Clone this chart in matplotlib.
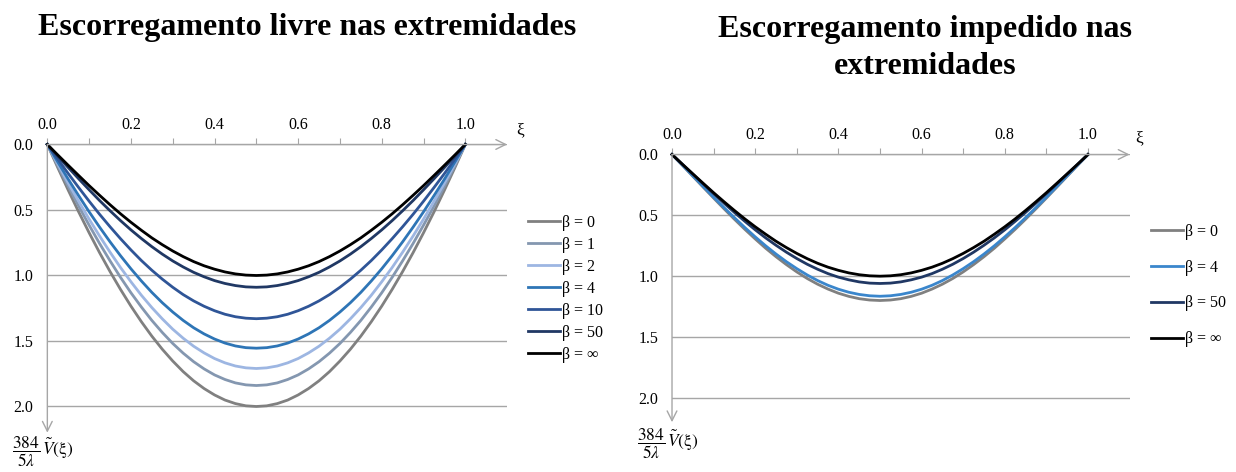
import numpy as np
import matplotlib
matplotlib.use("Agg")
import matplotlib.pyplot as plt

plt.rcParams['font.family'] = ['Liberation Serif', 'DejaVu Serif']
plt.rcParams['mathtext.fontset'] = 'stix'

# curves are symmetric about xi = 0.5: values read for xi = 0, 0.025, ..., 0.5
xi_half = np.round(np.arange(0, 0.5001, 0.025), 3)

# Escorregamento livre nas extremidades
livre_labels = ['β = 0', 'β = 1', 'β = 2', 'β = 4', 'β = 10', 'β = 50', 'β = ∞']
livre_colors = ['#808080', '#8497b0', '#9db6e2', '#2e75b6', '#2f5597', '#203864', '#000000']
livre_b0 = [0, 0.177, 0.349, 0.515, 0.674, 0.826, 0.970, 1.106, 1.234, 1.353, 1.463,
            1.563, 1.653, 1.734, 1.804, 1.863, 1.912, 1.951, 1.978, 1.995, 2.00]
livre_b1 = [0, 0.162, 0.319, 0.471, 0.616, 0.756, 0.888, 1.014, 1.132, 1.241, 1.343,
            1.435, 1.519, 1.593, 1.658, 1.713, 1.759, 1.794, 1.820, 1.835, 1.84]
livre_b2 = [0, 0.149, 0.294, 0.434, 0.570, 0.699, 0.822, 0.939, 1.048, 1.151, 1.245,
            1.331, 1.410, 1.479, 1.540, 1.591, 1.634, 1.667, 1.691, 1.705, 1.71]
livre_b4 = [0, 0.134, 0.265, 0.391, 0.514, 0.631, 0.743, 0.849, 0.949, 1.042, 1.129,
            1.208, 1.279, 1.343, 1.399, 1.446, 1.485, 1.516, 1.538, 1.551, 1.555]
livre_b10 = [0, 0.112, 0.222, 0.329, 0.433, 0.533, 0.628, 0.719, 0.805, 0.886, 0.960,
             1.028, 1.090, 1.146, 1.194, 1.235, 1.269, 1.296, 1.315, 1.326, 1.33]
livre_b50 = [0, 0.089, 0.176, 0.262, 0.346, 0.428, 0.506, 0.581, 0.652, 0.718, 0.780,
             0.837, 0.889, 0.935, 0.976, 1.010, 1.039, 1.061, 1.077, 1.087, 1.09]
livre_binf = [0, 0.080, 0.159, 0.237, 0.314, 0.388, 0.460, 0.529, 0.594, 0.655, 0.713,
              0.765, 0.813, 0.856, 0.894, 0.926, 0.952, 0.973, 0.988, 0.997, 1.00]

# Escorregamento impedido nas extremidades
imped_labels = ['β = 0', 'β = 4', 'β = 50', 'β = ∞']
imped_colors = ['#808080', '#3a86cc', '#203864', '#000000']
imped_b0 = [0, 0.089, 0.179, 0.269, 0.358, 0.446, 0.532, 0.615, 0.694, 0.770, 0.840,
            0.905, 0.965, 1.019, 1.066, 1.106, 1.140, 1.166, 1.185, 1.196, 1.20]
imped_b4 = [0, 0.087, 0.175, 0.263, 0.351, 0.436, 0.519, 0.600, 0.677, 0.750, 0.818,
            0.881, 0.938, 0.990, 1.036, 1.075, 1.107, 1.132, 1.150, 1.161, 1.165]
imped_b50 = [0, 0.081, 0.161, 0.242, 0.322, 0.400, 0.476, 0.549, 0.619, 0.685, 0.746,
             0.803, 0.855, 0.902, 0.943, 0.979, 1.008, 1.030, 1.047, 1.057, 1.06]
imped_binf = [0, 0.080, 0.159, 0.237, 0.314, 0.388, 0.460, 0.529, 0.594, 0.655, 0.713,
              0.765, 0.813, 0.856, 0.894, 0.926, 0.952, 0.973, 0.988, 0.997, 1.00]

x_ticks = np.round(np.arange(0, 1.0001, 0.1), 1)
x_ticklabels = ['0.0', '', '0.2', '', '0.4', '', '0.6', '', '0.8', '', '1.0']
y_ticks = [0.0, 0.5, 1.0, 1.5, 2.0]
y_ticklabels = ['0.0', '0.5', '1.0', '1.5', '2.0']

axis_gray = '#a6a6a6'
ylab = r'$\dfrac{384}{5\lambda}\,\tilde{V}\mathrm{(ξ)}$'

# full curve = half + mirrored half
xi = np.concatenate([xi_half, 1 - xi_half[-2::-1]])


def full(half):
    half = np.asarray(half)
    return np.concatenate([half, half[-2::-1]])


fig = plt.figure(figsize=(12.36, 4.72), dpi=100)
ax1 = fig.add_axes([0.0383, 0.0833, 0.372, 0.6106])
ax2 = fig.add_axes([0.5437, 0.1055, 0.3702, 0.5672])


def style_axis(ax, ylab_pos, xi_pos):
    ax.set_xlim(0, 1.1)
    ax.set_ylim(2.2, 0)
    for s in ax.spines.values():
        s.set_visible(False)
    ax.xaxis.tick_top()
    ax.set_xticks(x_ticks)
    ax.set_xticklabels(x_ticklabels)
    ax.set_yticks(y_ticks)
    ax.set_yticklabels(y_ticklabels)
    ax.tick_params(axis='x', length=4, width=0.8, color=axis_gray, pad=4, labelsize=11.5)
    ax.tick_params(axis='y', length=0, pad=10, labelsize=11.5)
    ax.grid(axis='y', color=axis_gray, lw=1.0)
    ax.grid(axis='x', visible=False)
    ax.set_axisbelow(True)
    arrow = dict(arrowstyle='->,head_length=0.7,head_width=0.35', color=axis_gray,
                 lw=1.0, shrinkA=0, shrinkB=0)
    ax.annotate('', xy=(1.0, 1.0), xytext=(0.0, 1.0), xycoords='axes fraction',
                arrowprops=arrow, annotation_clip=False)
    ax.annotate('', xy=(0.0, 0.0), xytext=(0.0, 1.0), xycoords='axes fraction',
                arrowprops=arrow, annotation_clip=False)
    ax.text(xi_pos[0], xi_pos[1], 'ξ', transform=ax.transAxes, fontsize=12.5,
            ha='left', va='center')
    ax.text(ylab_pos[0], ylab_pos[1], ylab, transform=ax.transAxes, fontsize=12.5,
            ha='left', va='center')


livre = [livre_b0, livre_b1, livre_b2, livre_b4, livre_b10, livre_b50, livre_binf]
for vals, lab, col in zip(livre, livre_labels, livre_colors):
    ax1.plot(xi, full(vals), color=col, lw=2.0, label=lab, clip_on=False)
style_axis(ax1, (-0.077, -0.068), (1.02, 1.05))
ax1.legend(loc='upper left', bbox_to_anchor=(1.045, 0.755), frameon=False,
           borderpad=0, borderaxespad=0, handlelength=2.0, handletextpad=0.15,
           labelspacing=0.375, fontsize=11.5)

imped = [imped_b0, imped_b4, imped_b50, imped_binf]
for vals, lab, col in zip(imped, imped_labels, imped_colors):
    ax2.plot(xi, full(vals), color=col, lw=2.0, label=lab, clip_on=False)
style_axis(ax2, (-0.077, -0.08), (1.012, 1.06))
ax2.legend(loc='upper left', bbox_to_anchor=(1.046, 0.742), frameon=False,
           borderpad=0, borderaxespad=0, handlelength=2.0, handletextpad=0.15,
           labelspacing=1.25, fontsize=11.5)

fig.text(307 / 1236, 1 - 27 / 472, 'Escorregamento livre nas extremidades',
         fontsize=23, fontweight='bold', ha='center', va='center')
fig.text(925 / 1236, 1 - 48 / 472, 'Escorregamento impedido nas\nextremidades',
         fontsize=23, fontweight='bold', ha='center', va='center', linespacing=1.35)

fig.savefig('out.png', dpi=100)
